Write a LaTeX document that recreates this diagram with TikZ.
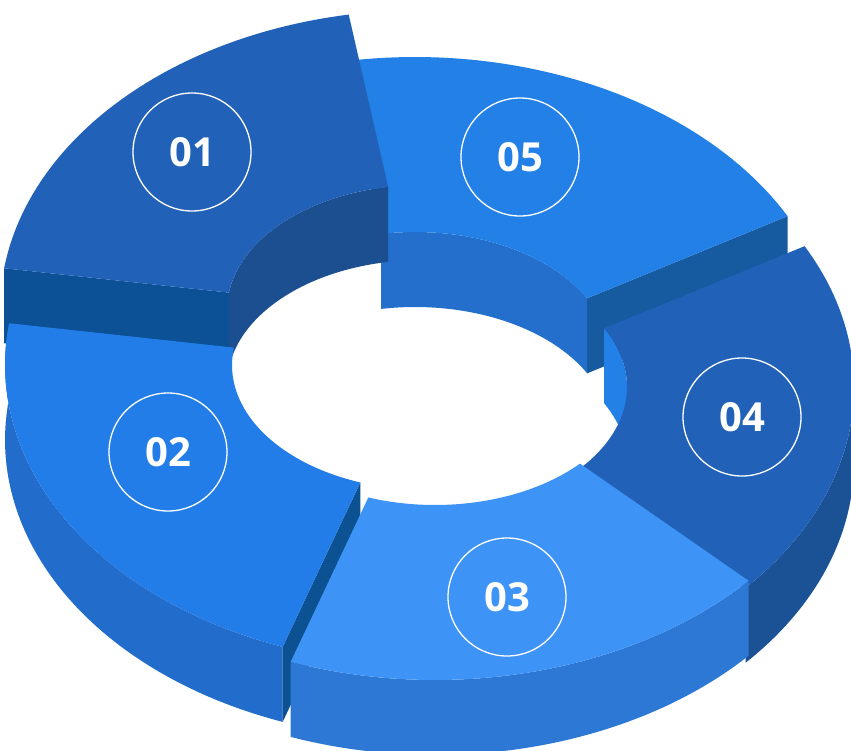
\documentclass[tikz,border=0pt]{standalone}
\usepackage{fontspec}
\setmainfont{Open Sans}
\definecolor{cA}{HTML}{165AA0}
\definecolor{cB}{HTML}{246FCC}
\definecolor{cC}{HTML}{2280E6}
\definecolor{cD}{HTML}{1B5296}
\definecolor{cE}{HTML}{2162B8}
\definecolor{cF}{HTML}{0C5096}
\definecolor{cG}{HTML}{1C4F90}
\definecolor{cH}{HTML}{226CCC}
\definecolor{cI}{HTML}{0C5292}
\definecolor{cJ}{HTML}{227DE8}
\definecolor{cK}{HTML}{2C78D4}
\definecolor{cL}{HTML}{3E93F7}
\begin{document}
\def\cx{427}\def\cy{365}\def\ao{422}\def\bo{300}\def\ai{195}\def\bi{125}\def\D{75}
\newcommand\topface[5]{\fill[#5,shift={(#3,#4)}] plot[domain=#1:#2,samples=50] ({\cx+\ao*cos(\x)},{\cy-\bo*sin(\x)}) -- plot[domain=#2:#1,samples=50] ({\cx+\ai*cos(\x)},{\cy-\bi*sin(\x)}) -- cycle;}
\newcommand\outerwall[5]{\fill[#5,shift={(#3,#4)}] plot[domain=#1:#2,samples=50] ({\cx+\ao*cos(\x)},{\cy-\bo*sin(\x)}) -- plot[domain=#2:#1,samples=50] ({\cx+\ao*cos(\x)},{\cy+\D-\bo*sin(\x)}) -- cycle;}
\newcommand\innerwall[5]{\fill[#5,shift={(#3,#4)}] plot[domain=#1:#2,samples=50] ({\cx+\ai*cos(\x)},{\cy-\bi*sin(\x)}) -- plot[domain=#2:#1,samples=50] ({\cx+\ai*cos(\x)},{\cy+\D-\bi*sin(\x)}) -- cycle;}
\newcommand\cutface[4]{\fill[#4,shift={(#2,#3)}] ({\cx+\ai*cos(#1)},{\cy-\bi*sin(#1)}) -- ({\cx+\ao*cos(#1)},{\cy-\bo*sin(#1)}) -- ({\cx+\ao*cos(#1)},{\cy+\D-\bo*sin(#1)}) -- ({\cx+\ai*cos(#1)},{\cy+\D-\bi*sin(#1)}) -- cycle;}
\begin{tikzpicture}[x=1pt,y=-1pt,
  lbl/.style={circle,draw=white,line width=1.3pt,minimum size=118pt,text=white,font=\fontsize{40}{40}\selectfont\bfseries}]
\useasboundingbox (0,0) rectangle (851,750);
% 05
\cutface{28}{-12}{-8}{cA}
\innerwall{28}{100}{-12}{-8}{cB}
\topface{28}{100}{-12}{-8}{cC}
% 04
\innerwall{0}{28}{5}{22}{cC}
\outerwall{318}{360}{5}{22}{cD}
\topface{318}{388}{5}{22}{cE}
% 01
\cutface{172}{-5}{-55}{cF}
\innerwall{100}{172}{-5}{-55}{cG}
\topface{100}{172}{-5}{-55}{cE}
% 02
\outerwall{172}{250}{0}{0}{cH}
\cutface{250}{0}{0}{cI}
\topface{172}{250}{0}{0}{cJ}
% 03
\outerwall{250}{318}{8}{15}{cK}
\topface{250}{318}{8}{15}{cL}
% labels
\node[lbl] (n01) at (192,152) {01};
\node[lbl] (n05) at (520,157) {05};
\node[lbl] (n04) at (742,417) {04};
\node[lbl] (n03) at (507,597) {03};
\node[lbl] (n02) at (168,452) {02};
\end{tikzpicture}
\end{document}
